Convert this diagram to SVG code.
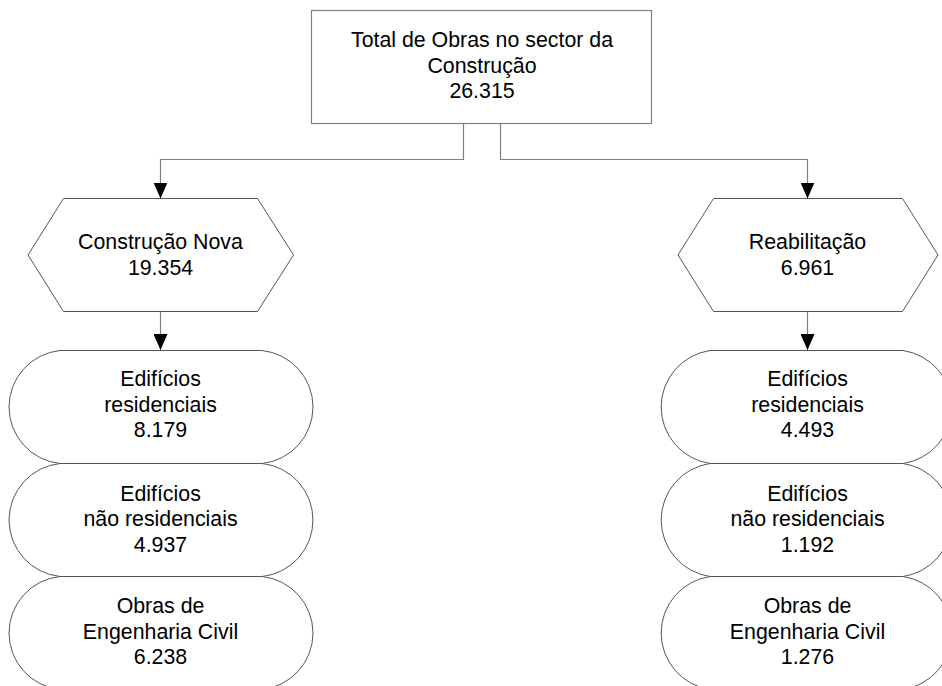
<svg xmlns="http://www.w3.org/2000/svg" width="942" height="686" viewBox="0 0 942 686">
  <style>
    .shape { fill: #ffffff; stroke: #555555; stroke-width: 1; }
    .box { fill: #ffffff; stroke: #808080; stroke-width: 1.2; }
    .link { fill: none; stroke: #808080; stroke-width: 1.2; marker-end: url(#arrow); }
    text { font-family: "Liberation Sans", Arial, sans-serif; font-size: 21.33px; fill: #000000; text-anchor: middle; }
  </style>
  <defs>
    <marker id="arrow" markerUnits="userSpaceOnUse" markerWidth="16" markerHeight="14" refX="16" refY="7" orient="auto">
      <path d="M0,0 L16,7 L0,14 Z" fill="#000000"/>
    </marker>
  </defs>
  <rect width="942" height="686" fill="#ffffff"/>

  <!-- connectors -->
  <g id="connectors">
    <path class="link" d="M463.5,123 V159.5 H160.5 V198.5"/>
    <path class="link" d="M500.5,123 V159.5 H807.5 V198.5"/>
    <path class="link" d="M160.5,312 V350"/>
    <path class="link" d="M807.5,312 V350"/>
  </g>

  <!-- root -->
  <g id="total">
    <rect class="box" x="311.5" y="10.5" width="340" height="113"/>
    <text x="482" y="47">Total de Obras no sector da</text>
    <text x="482" y="72.5">Construção</text>
    <text x="482" y="98">26.315</text>
  </g>

  <!-- branches -->
  <g id="construcao-nova">
    <polygon class="shape" points="63.5,198.5 257.5,198.5 293.5,255 257.5,311.5 63.5,311.5 28,255"/>
    <text x="160.5" y="249">Construção Nova</text>
    <text x="160.5" y="275">19.354</text>
  </g>
  <g id="reabilitacao">
    <polygon class="shape" points="713.5,198.5 902.5,198.5 938,255 902.5,311.5 713.5,311.5 678,255"/>
    <text x="807.5" y="249">Reabilitação</text>
    <text x="807.5" y="275">6.961</text>
  </g>

  <!-- Construção Nova breakdown -->
  <g id="cn-residenciais">
    <path class="shape" d="M60,350.5 H262 A56.8,56.8 0 0 1 262,463.5 H60 A56.8,56.8 0 0 1 60,350.5 Z"/>
    <text x="160.5" y="386">Edifícios</text>
    <text x="160.5" y="411.5">residenciais</text>
    <text x="160.5" y="437">8.179</text>
  </g>
  <g id="cn-nao-residenciais">
    <path class="shape" d="M60,463.5 H262 A56.8,56.8 0 0 1 262,576.5 H60 A56.8,56.8 0 0 1 60,463.5 Z"/>
    <text x="160.5" y="500.5">Edifícios</text>
    <text x="160.5" y="526">não residenciais</text>
    <text x="160.5" y="551.5">4.937</text>
  </g>
  <g id="cn-engenharia">
    <path class="shape" d="M60,576.5 H262 A56.8,56.8 0 0 1 262,689.5 H60 A56.8,56.8 0 0 1 60,576.5 Z"/>
    <text x="160.5" y="613">Obras de</text>
    <text x="160.5" y="638.5">Engenharia Civil</text>
    <text x="160.5" y="664">6.238</text>
  </g>

  <!-- Reabilitação breakdown -->
  <g id="rb-residenciais">
    <path class="shape" d="M710,350.5 H903 A57.1,57.1 0 0 1 903,463.5 H710 A57.1,57.1 0 0 1 710,350.5 Z"/>
    <text x="807.5" y="386">Edifícios</text>
    <text x="807.5" y="411.5">residenciais</text>
    <text x="807.5" y="437">4.493</text>
  </g>
  <g id="rb-nao-residenciais">
    <path class="shape" d="M710,463.5 H903 A57.1,57.1 0 0 1 903,576.5 H710 A57.1,57.1 0 0 1 710,463.5 Z"/>
    <text x="807.5" y="500.5">Edifícios</text>
    <text x="807.5" y="526">não residenciais</text>
    <text x="807.5" y="551.5">1.192</text>
  </g>
  <g id="rb-engenharia">
    <path class="shape" d="M710,576.5 H903 A57.1,57.1 0 0 1 903,689.5 H710 A57.1,57.1 0 0 1 710,576.5 Z"/>
    <text x="807.5" y="613">Obras de</text>
    <text x="807.5" y="638.5">Engenharia Civil</text>
    <text x="807.5" y="664">1.276</text>
  </g>
</svg>
